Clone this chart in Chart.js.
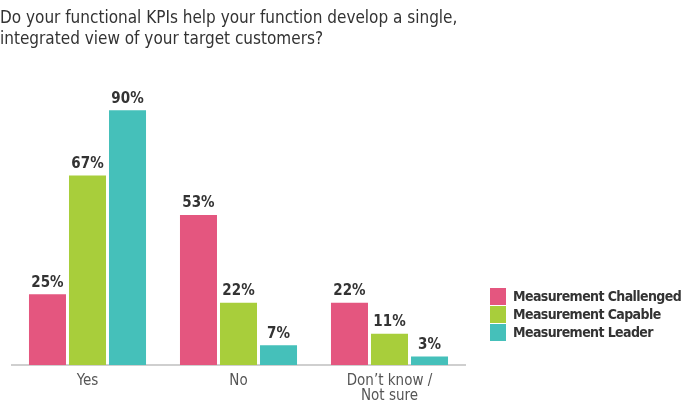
<!DOCTYPE html>
<html>
<head>
<meta charset="utf-8">
<script src="https://cdn.jsdelivr.net/npm/chart.js@4"></script>
<style>
  html, body { margin:0; padding:0; background:#fff; }
  #wrap { position:relative; width:695px; height:404px; overflow:hidden; }
  #chart { position:absolute; left:0; top:0; }
  .title {
    position:absolute; left:0; top:7px; margin:0;
    font-family:"DejaVu Sans Condensed",sans-serif;
    font-size:17px; line-height:21px; font-weight:normal; color:#333;
  }
  .legend { position:absolute; left:490px; top:287px; }
  .legend-item {
    display:flex; align-items:center; height:18px; white-space:nowrap;
    font-family:"DejaVu Sans Condensed",sans-serif;
    font-size:14px; letter-spacing:-0.6px; font-weight:bold; color:#333;
  }
  .legend-dot { width:16px; height:17px; margin-right:7px; flex:none; }
</style>
</head>
<body>
<div id="wrap">
  <canvas id="chart" width="695" height="404"></canvas>
  <div class="title">Do your functional KPIs help your function develop a single,<br>integrated view of your target customers?</div>
  <div class="legend" id="legend"></div>
</div>
<script>
// answers on the x axis
const categories = ['Yes', 'No', ['Don\u2019t know /', 'Not sure']];
const seriesNames = ['Measurement Challenged', 'Measurement Capable', 'Measurement Leader'];
const challenged = [25, 53, 22];
const capable    = [67, 22, 11];
const leader     = [90, 7, 3];
const COLORS = ['#E4567F', '#A8CE3B', '#45C0BA'];
const FONT = '"DejaVu Sans Condensed",sans-serif';

// value labels over each bar
const valueLabels = {
  id: 'valueLabels',
  afterDatasetsDraw(chart) {
    const ctx = chart.ctx;
    ctx.save();
    ctx.font = 'bold 15px ' + FONT;
    ctx.fillStyle = '#333';
    ctx.textAlign = 'center';
    ctx.textBaseline = 'bottom';
    chart.data.datasets.forEach((ds, i) => {
      chart.getDatasetMeta(i).data.forEach((bar, j) => {
        ctx.fillText(ds.data[j] + '%', bar.x, bar.y - 4);
      });
    });
    ctx.restore();
  }
};

new Chart(document.getElementById('chart'), {
  type: 'bar',
  data: {
    labels: categories,
    datasets: [challenged, capable, leader].map((d, i) => ({
      label: seriesNames[i],
      data: d,
      backgroundColor: COLORS[i],
      categoryPercentage: 0.795,
      barPercentage: 0.925
    }))
  },
  options: {
    responsive: false,
    animation: false,
    layout: { padding: { left: 12, right: 230, top: 82, bottom: 0 } },
    plugins: { legend: { display: false }, tooltip: { enabled: false } },
    scales: {
      x: {
        grid: { display: false },
        border: { display: true, color: '#cfcfcf', width: 2 },
        ticks: { color: '#555', font: { family: FONT, size: 15, lineHeight: 1.0 }, padding: 1 },
        afterFit: s => { s.height = 39; }
      },
      y: { display: false, min: 0, max: 100 }
    }
  },
  plugins: [valueLabels]
});

document.getElementById('legend').innerHTML = seriesNames.map((n, i) =>
  `<div class="legend-item"><div class="legend-dot" style="background:${COLORS[i]}"></div>${n}</div>`
).join('');
</script>
</body>
</html>
